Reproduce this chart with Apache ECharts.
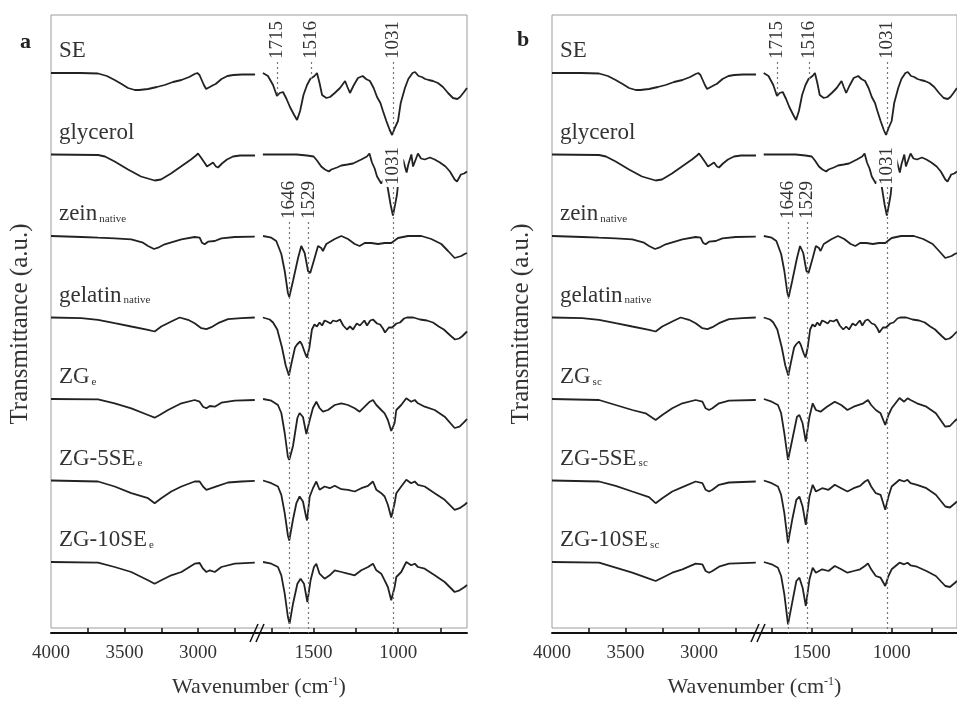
<!DOCTYPE html>
<html><head><meta charset="utf-8">
<script src="https://cdn.jsdelivr.net/npm/echarts@6/dist/echarts.min.js"></script>
<style>html,body{margin:0;padding:0;background:#fff}#c{width:957px;height:703px}</style>
</head><body><div id="c"></div>
<script>
// ---------- DATA: [wavenumber (cm-1), relative transmittance (a.u.)] ----------
// high-wavenumber segment (4000 - ~2600) and low-wavenumber segment (~1800 - 593)
const SE_hi = [[4000,0],[3800,0],[3680,-0.5],[3620,-3],[3567,-7],[3520,-11],[3476,-15],[3430,-17],[3400,-17],[3340,-16],[3280,-14],[3227,-12],[3170,-9],[3113,-7],[3060,-4],[3023,-1],[3005,0],[2990,-2],[2975,-7],[2960,-12],[2945,-16],[2932,-17],[2920,-14],[2909,-13],[2895,-12],[2880,-11],[2864,-9],[2840,-6],[2800,-3],[2760,-2],[2700,-1.5],[2612,-1.5]];
const SE_lo = [[1800,0],[1770,-3],[1740,-12],[1717,-23],[1700,-20],[1681,-19],[1660,-26],[1640,-34],[1615,-42],[1598,-47],[1580,-38],[1560,-22],[1539,-12],[1520,-6],[1510,-8],[1495,-3],[1480,0],[1465,-10],[1450,-22],[1425,-25],[1403,-24],[1375,-20],[1344,-15],[1314,-8],[1300,-14],[1285,-20],[1265,-13],[1238,-5],[1210,-3],[1190,-6],[1167,-8],[1145,-15],[1125,-24],[1105,-30],[1090,-38],[1070,-48],[1050,-57],[1036,-62],[1020,-55],[1001,-48],[985,-30],[960,-15],[940,-6],[915,0],[900,1],[880,-3],[860,-4],[840,-6],[820,-7],[794,-8],[765,-10],[735,-14],[705,-20],[676,-25],[650,-26],[634,-24],[615,-20],[593,-15]];
const GLY_hi = [[4000,0],[3680,-0.5],[3633,-2],[3567,-7],[3476,-15],[3388,-22],[3295,-26],[3252,-25],[3184,-19],[3116,-12],[3048,-5],[3014,-1],[3000,1],[2980,-3],[2952,-9],[2939,-12],[2918,-10],[2898,-8],[2878,-12],[2864,-13],[2837,-9],[2803,-5],[2762,-2],[2714,-1],[2612,-1]];
const GLY_lo = [[1800,0],[1700,0],[1600,0],[1540,-1],[1500,-2],[1480,-6],[1455,-12],[1433,-15],[1410,-17],[1395,-15],[1362,-13],[1336,-11],[1300,-10],[1267,-9],[1218,-5],[1185,-2],[1170,1],[1155,-8],[1139,-14],[1125,-22],[1100,-29],[1085,-25],[1070,-26],[1060,-35],[1045,-50],[1031,-61],[1018,-50],[1007,-40],[995,-20],[985,-10],[971,-5],[960,-12],[950,-18],[940,-10],[922,0],[912,-12],[902,-10],[883,1],[865,-4],[843,-5],[812,-3],[784,-5],[753,-8],[720,-12],[694,-17],[666,-25],[652,-27],[629,-20],[610,-19],[593,-17]];
const ZEIN_hi = [[4000,0],[3794,-1],[3680,-1.7],[3567,-2.3],[3454,-3.3],[3374,-6.7],[3340,-10],[3299,-13],[3272,-11.7],[3227,-8.3],[3113,-3.3],[3023,-1],[2989,-1.7],[2973,-6.7],[2955,-8.3],[2932,-5.7],[2886,-5],[2841,-2.3],[2750,-1],[2614,-0.7]];
const ZEIN_lo = [[1799,0],[1750,-1.7],[1721,-5],[1691,-18],[1671,-35],[1652,-57],[1644,-61],[1622,-45],[1592,-22],[1573,-10],[1553,-17],[1533,-35],[1520,-37],[1494,-22],[1474,-10],[1455,-12],[1445,-15],[1425,-8],[1375,-3],[1336,0],[1297,-3],[1257,-8],[1228,-10],[1198,-7],[1159,-7],[1119,-8],[1080,-7],[1041,-7],[1001,-2],[942,0],[863,0],[804,-3],[745,-8],[705,-15],[666,-22],[627,-20],[607,-18],[593,-17]];
const GEL_hi = [[4000,0],[3794,-0.7],[3680,-2.3],[3567,-5.7],[3454,-9],[3340,-12.3],[3295,-14],[3250,-9],[3182,-4],[3125,0],[3068,-2.3],[3023,-5.7],[2977,-10.7],[2943,-11.7],[2909,-9.7],[2864,-5.7],[2796,-1.7],[2705,-0.7],[2614,0]];
const GEL_lo = [[1800,0],[1760,-2],[1740,-5],[1715,-12],[1687,-30],[1665,-48],[1646,-58],[1630,-45],[1610,-30],[1598,-27],[1580,-24],[1569,-27],[1550,-36],[1539,-40],[1525,-30],[1510,-12],[1495,-7],[1480,-9],[1465,-5],[1450,-8],[1435,-3],[1421,-4],[1400,-6],[1385,-3],[1365,-4],[1344,-2],[1325,-8],[1303,-12],[1285,-9],[1267,-12],[1245,-6],[1226,-8],[1200,-3],[1184,-8],[1165,-3],[1149,-2],[1125,-6],[1107,-7],[1090,-11],[1078,-15],[1055,-10],[1036,-10],[1010,-6],[989,-5],[965,-1],[948,0],[910,0],[871,-2],[830,-3],[794,-5],[760,-9],[730,-12],[711,-15],[685,-19],[664,-22],[640,-21],[623,-19],[605,-16],[593,-14]];
const ZGe_hi = [[4000,0],[3680,-0.3],[3567,-4.3],[3454,-9.3],[3340,-16],[3295,-18.7],[3261,-16],[3204,-11],[3113,-4.3],[3023,-1],[2989,-2.7],[2966,-7.7],[2943,-9.3],[2920,-7],[2886,-7.7],[2841,-3.7],[2750,-1.7],[2614,-1]];
const ZGe_lo = [[1799,0],[1750,-1.7],[1711,-6],[1691,-14],[1671,-34],[1652,-58],[1644,-61],[1622,-47],[1596,-19],[1583,-14],[1563,-18],[1543,-35],[1523,-21],[1504,-9],[1484,-2.7],[1465,-9],[1445,-12.7],[1415,-11],[1375,-6],[1336,-4.3],[1297,-6],[1257,-9.3],[1228,-12.7],[1198,-7.7],[1168,-2.7],[1149,-1],[1129,-6],[1100,-11],[1080,-14.3],[1061,-21],[1041,-32],[1021,-24],[1011,-11],[982,-6],[952,0.7],[923,-2.7],[902,-1],[883,-4.3],[843,-7.7],[784,-11],[725,-17.7],[666,-29],[637,-27.7],[607,-22.7],[593,-20]];
const ZG5e_hi = [[4000,0],[3680,-1],[3567,-6],[3454,-12.7],[3340,-17.7],[3295,-22.7],[3250,-17.7],[3182,-11],[3113,-6],[3023,-1],[2989,-1],[2966,-6],[2943,-9.3],[2909,-7.7],[2864,-5.3],[2796,-2],[2705,-1],[2614,-0.3]];
const ZG5e_lo = [[1799,0],[1750,-2.7],[1711,-6],[1691,-14.3],[1671,-32.7],[1652,-55],[1644,-60],[1622,-39],[1602,-22.7],[1583,-16],[1563,-21],[1545,-36],[1539,-40],[1523,-16],[1504,-7.7],[1484,-1],[1465,-9.3],[1435,-6],[1405,-7.7],[1375,-5.3],[1336,-8.7],[1297,-9.3],[1257,-11],[1218,-7.7],[1178,-5.3],[1149,-1],[1129,-9.3],[1100,-12.7],[1080,-16],[1061,-24.3],[1041,-37],[1021,-22.7],[1011,-12.7],[982,-6],[952,0.7],[923,-2.7],[902,-1],[883,-4.3],[843,-6],[784,-12.7],[725,-19.3],[666,-29.3],[637,-27.7],[607,-24.3],[593,-22]];
const ZG10e_hi = [[4000,0],[3680,-0.7],[3567,-5],[3454,-10],[3340,-18.3],[3295,-21.7],[3250,-18.3],[3182,-13.3],[3113,-10],[3023,-1.7],[2989,-1],[2966,-6.7],[2943,-10],[2920,-8.3],[2886,-10],[2841,-5],[2750,-1.7],[2614,-0.7]];
const ZG10e_lo = [[1799,0],[1750,-1.7],[1711,-5],[1691,-13.3],[1671,-31.7],[1652,-55],[1642,-61.7],[1622,-41.7],[1596,-21.7],[1577,-16.7],[1557,-21.7],[1537,-40],[1518,-18.3],[1498,-5],[1484,-1.7],[1465,-11.7],[1435,-16.7],[1405,-13.3],[1375,-8.3],[1336,-10],[1297,-11.7],[1257,-13.3],[1218,-8.3],[1178,-5],[1149,-1.7],[1129,-8.3],[1100,-11.7],[1080,-18.3],[1061,-25],[1041,-38.3],[1021,-25],[1011,-15],[982,-10],[952,0],[923,-3.3],[902,-1.7],[883,-5],[843,-6.7],[784,-13.3],[725,-20],[666,-30],[637,-28.3],[607,-25],[593,-23]];
const ZGsc_hi = [[4000,0],[3680,-1],[3567,-6],[3454,-11],[3363,-14.3],[3295,-21],[3250,-16],[3182,-9.3],[3113,-4.3],[3023,-1],[2977,-2.7],[2955,-9.3],[2932,-11],[2909,-9.3],[2864,-4.3],[2796,-1.7],[2614,-1]];
const ZGsc_lo = [[1799,0],[1750,-2.7],[1711,-6],[1691,-14.3],[1671,-34.3],[1648,-61],[1622,-41],[1592,-17.7],[1577,-16],[1557,-24.3],[1537,-42.7],[1514,-17.7],[1494,-4.3],[1474,-11],[1445,-12.7],[1405,-7.7],[1356,-2.7],[1316,-6],[1277,-11],[1238,-7.7],[1178,-4.3],[1149,-1],[1129,-6],[1100,-11],[1070,-14.3],[1041,-26],[1021,-16],[1001,-9.3],[952,1],[923,-2.7],[902,0.7],[883,-1],[843,-4.3],[784,-7.7],[725,-14.3],[666,-27.7],[637,-27],[607,-22],[593,-20]];
const ZG5sc_hi = [[4000,0],[3680,-1],[3567,-5.3],[3454,-11],[3340,-16.7],[3295,-22.7],[3250,-17.7],[3182,-11],[3113,-6.7],[3023,-1],[2977,-2.7],[2955,-9.3],[2932,-11],[2909,-9.3],[2864,-4.3],[2796,-2],[2614,-1]];
const ZG5sc_lo = [[1799,0],[1750,-2.7],[1711,-6],[1691,-14.3],[1671,-32.7],[1648,-62.7],[1622,-39.3],[1596,-19.3],[1577,-16],[1557,-26],[1537,-44.3],[1514,-16],[1494,-4.3],[1474,-11],[1435,-7.7],[1395,-9.3],[1356,-4.3],[1316,-7.7],[1277,-11],[1238,-7.7],[1198,-5.3],[1168,-1],[1149,0.7],[1129,-6],[1100,-12.7],[1070,-14.3],[1041,-29.3],[1021,-16],[1001,-6],[952,0.7],[923,-1],[902,0.7],[883,-2.7],[843,-4.3],[784,-7.7],[725,-14.3],[666,-26],[637,-27],[607,-23],[593,-21]];
const ZG10sc_hi = [[4000,0],[3680,-0.7],[3567,-5.7],[3454,-10.7],[3340,-16.7],[3295,-19],[3250,-15.7],[3182,-10.7],[3113,-7.3],[3023,-1.7],[2977,-2.3],[2955,-9],[2932,-10.7],[2909,-9],[2864,-4.7],[2796,-1.7],[2614,-0.7]];
const ZG10sc_lo = [[1799,0],[1750,-2.3],[1711,-5.7],[1691,-14],[1671,-32.3],[1648,-62.3],[1622,-40.7],[1596,-19],[1577,-15.7],[1557,-25.7],[1537,-44],[1514,-17.3],[1494,-5.7],[1474,-10.7],[1435,-7.3],[1395,-9],[1356,-4],[1316,-7.3],[1277,-10.7],[1238,-9],[1198,-7.3],[1168,-4],[1149,-1.3],[1129,-7.3],[1100,-14],[1070,-15.7],[1041,-24],[1021,-14],[1001,-7.3],[952,-0.7],[923,-2.3],[902,-0.7],[883,-3.3],[843,-4.7],[784,-9],[725,-14],[666,-24],[637,-25],[607,-21],[593,-19]];

const labelsA = [['SE',''],['glycerol',''],['zein','native'],['gelatin','native'],['ZG','e'],['ZG-5SE','e'],['ZG-10SE','e']];
const labelsB = [['SE',''],['glycerol',''],['zein','native'],['gelatin','native'],['ZG','sc'],['ZG-5SE','sc'],['ZG-10SE','sc']];
const tracesA = [[SE_hi,SE_lo],[GLY_hi,GLY_lo],[ZEIN_hi,ZEIN_lo],[GEL_hi,GEL_lo],[ZGe_hi,ZGe_lo],[ZG5e_hi,ZG5e_lo],[ZG10e_hi,ZG10e_lo]];
const tracesB = [[SE_hi,SE_lo],[GLY_hi,GLY_lo],[ZEIN_hi,ZEIN_lo],[GEL_hi,GEL_lo],[ZGsc_hi,ZGsc_lo],[ZG5sc_hi,ZG5sc_lo],[ZG10sc_hi,ZG10sc_lo]];

const hiTicks = [3750,3500,3250,3000,2750];
const hiTickLabels = [4000,3500,3000];
const loTicks = [1750,1500,1250,1000,750];
const loTickLabels = [1500,1000];
// marked bands: wavenumber, dotted line from/to (stack units), label centre
const peakLines = [[1715,571,537],[1516,571,553],[1031,571,498],[1031,446,0],[1646,411,0],[1529,411,0]];
const peakLabels = [[1715,593,false],[1516,593,false],[1031,593,false],[1031,467,true],[1646,433,false],[1529,433,false]];

// ---------- CHART ----------
const FONT = "'Liberation Serif','Times New Roman',serif";
const PANEL_X = [51, 552];
const TOP = 15, H = 618, LW = 207, RW = 208;
const BASE0 = 560, STEP = 81.5;
const chart = echarts.init(document.getElementById('c'), null, {renderer: 'canvas'});
const grids = [], xAxes = [], yAxes = [], series = [];
const panels = [{traces: tracesA, labels: labelsA}, {traces: tracesB, labels: labelsB}];
const lineStyle = {color: '#222', width: 1.8};
const plain = v => String(v);

panels.forEach((P, pi) => {
  const x0 = PANEL_X[pi];
  const gF = pi * 3, gL = gF + 1, gR = gF + 2;
  grids.push({left: x0, top: TOP, width: LW + RW + 1, height: H, show: true, borderColor: '#9c9c9c', borderWidth: 1, backgroundColor: 'transparent'});
  grids.push({left: x0, top: TOP, width: LW, height: H});
  grids.push({left: x0 + LW + 1, top: TOP, width: RW, height: H});
  xAxes.push({gridIndex: gF, type: 'value', min: 0, max: 1, axisLine: {show: false}, axisTick: {show: false}, axisLabel: {show: false}, splitLine: {show: false},
    name: '{n|Wavenumber (cm}{s|-1}{n|)}', nameLocation: 'middle', nameGap: 48,
    nameTextStyle: {rich: {n: {fontFamily: FONT, fontSize: 22, color: '#333', verticalAlign: 'bottom'}, s: {fontFamily: FONT, fontSize: 12, color: '#333', verticalAlign: 'top'}}}});
  yAxes.push({gridIndex: gF, type: 'value', min: 0, max: 1, show: false});
  const common = {type: 'value', inverse: true, position: 'bottom', splitLine: {show: false},
    axisLine: {show: true, onZero: false, lineStyle: {color: '#111', width: 2}}};
  xAxes.push(Object.assign({gridIndex: gL, min: 2592, max: 4000,
    axisTick: {show: true, inside: true, length: 5, customValues: hiTicks, lineStyle: {color: '#111', width: 1.5}},
    axisLabel: {customValues: hiTickLabels, formatter: plain, fontFamily: FONT, fontSize: 19, color: '#333', margin: 11}}, common));
  xAxes.push(Object.assign({gridIndex: gR, min: 593, max: 1823,
    axisTick: {show: true, inside: true, length: 5, customValues: loTicks, lineStyle: {color: '#111', width: 1.5}},
    axisLabel: {customValues: loTickLabels, formatter: plain, fontFamily: FONT, fontSize: 19, color: '#333', margin: 11}}, common));
  yAxes.push({gridIndex: gL, type: 'value', min: 0, max: H, axisLine: {show: false}, axisTick: {show: false}, axisLabel: {show: false}, splitLine: {show: false},
    name: 'Transmittance (a.u.)', nameLocation: 'middle', nameGap: 18, nameRotate: 90,
    nameTextStyle: {fontFamily: FONT, fontSize: 25, color: '#333'}});
  yAxes.push({gridIndex: gR, type: 'value', min: 0, max: H, show: false});

  P.traces.forEach((tr, ti) => {
    const off = BASE0 - ti * STEP;
    series.push({type: 'line', xAxisIndex: gL, yAxisIndex: gL, data: tr[0].map(d => [d[0], d[1] + off]),
      symbol: 'none', lineStyle, silent: true, animation: false});
    const s = {type: 'line', xAxisIndex: gR, yAxisIndex: gR, data: tr[1].map(d => [d[0], d[1] + off]),
      symbol: 'none', lineStyle, silent: true, animation: false};
    if (ti === 0) {
      s.markLine = {silent: true, animation: false, symbol: ['none', 'none'], label: {show: false},
        lineStyle: {type: [2, 3], color: '#777', width: 1.2},
        data: peakLines.map(p => [{coord: [p[0], p[1]]}, {coord: [p[0], p[2]]}])};
    }
    series.push(s);
  });
});

chart.setOption({
  animation: false,
  backgroundColor: '#fff',
  title: [
    {text: 'a', left: 15, top: 26, textStyle: {fontFamily: FONT, fontWeight: 'bold', fontSize: 22, color: '#222'}},
    {text: 'b', left: 512, top: 24, textStyle: {fontFamily: FONT, fontWeight: 'bold', fontSize: 22, color: '#222'}}
  ],
  grid: grids, xAxis: xAxes, yAxis: yAxes, series
});

const gfx = [];
panels.forEach((P, pi) => {
  const gL = pi * 3 + 1, gR = pi * 3 + 2;
  P.labels.forEach((lab, ti) => {
    const off = BASE0 - ti * STEP;
    const p = chart.convertToPixel({gridIndex: gL}, [3946, off + 22]);
    gfx.push({type: 'text', x: p[0], y: p[1], silent: true, style: {
      text: lab[1] ? '{m|' + lab[0] + '}{s|' + lab[1] + '}' : '{m|' + lab[0] + '}',
      align: 'left', verticalAlign: 'middle',
      rich: {m: {fontFamily: FONT, fontSize: 23, fill: '#333', verticalAlign: 'bottom'},
             s: {fontFamily: FONT, fontSize: 11, fill: '#333', verticalAlign: 'bottom', padding: [0, 0, 1, 2]}}}});
  });
  peakLabels.forEach(pl => {
    const p = chart.convertToPixel({gridIndex: gR}, [pl[0], pl[1]]);
    gfx.push({type: 'text', x: p[0], y: p[1], rotation: Math.PI / 2, silent: true, z: 100, style: {
      text: String(pl[0]), fontFamily: FONT, fontSize: 19, fill: '#333', align: 'center', verticalAlign: 'middle',
      backgroundColor: pl[2] ? '#fff' : 'transparent', padding: pl[2] ? [1, 2] : 0}});
  });
  const b = chart.convertToPixel({gridIndex: gL}, [2592, 0]);
  [-4, 2].forEach(dx => {
    gfx.push({type: 'line', silent: true, z: 100, shape: {x1: b[0] + dx - 4, y1: b[1] + 9, x2: b[0] + dx + 4, y2: b[1] - 9},
      style: {stroke: '#111', lineWidth: 1.5}});
  });
});
chart.setOption({graphic: gfx});
</script>
</body></html>
